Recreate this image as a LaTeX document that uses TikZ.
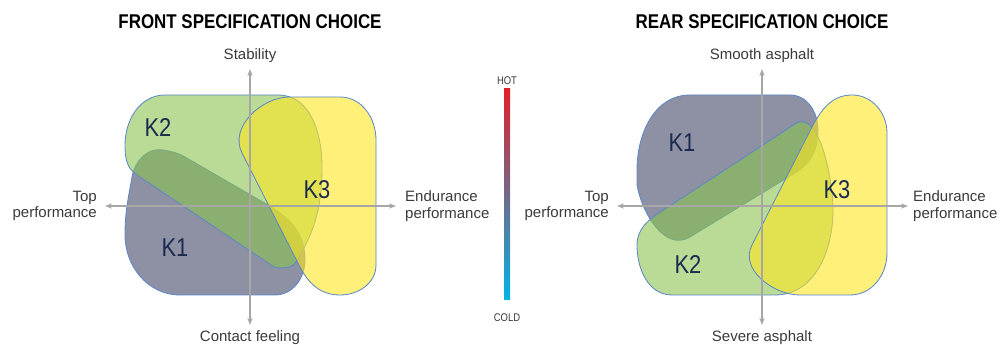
\documentclass[tikz,border=0pt]{standalone}
\usepackage{fontspec}
\setmainfont{Liberation Sans}
\newfontfamily\condfont{Liberation Sans}[FakeStretch=0.85]
\usetikzlibrary{arrows.meta}
\definecolor{kblue}{HTML}{434866}
\definecolor{kgreen}{HTML}{8AC350}
\definecolor{kyellow}{HTML}{FFE621}
\definecolor{kedge}{HTML}{5B86C8}
\definecolor{axisgrey}{HTML}{A6A6A6}
\definecolor{labelgrey}{HTML}{3A3A3A}
\definecolor{knavy}{HTML}{1B2A4E}
\definecolor{hotred}{HTML}{E3202A}
\definecolor{midgrey}{HTML}{8E8E9C}
\definecolor{coldcyan}{HTML}{00B4E8}

\begin{document}
\begin{tikzpicture}[x=0.03cm, y=0.03cm,
	region/.style={draw=kedge, line width=0.7pt, fill opacity=0.6},
	axis/.style={draw=axisgrey, line width=1.3pt, {Stealth[length=6pt,width=4.5pt]}-{Stealth[length=6pt,width=4.5pt]}},
	axislabel/.style={text=labelgrey, font=\fontsize{12.8}{14.2}\selectfont, inner sep=0pt},
	klabel/.style={text=knavy, font=\condfont\fontsize{22}{24}\selectfont, inner sep=0pt},
	title/.style={font=\condfont\bfseries\fontsize{17}{19}\selectfont, inner sep=0pt},
	barlabel/.style={text=labelgrey, font=\condfont\fontsize{9.5}{10}\selectfont, inner sep=0pt}]
		%%%%% START %%%%%
		\useasboundingbox (0, 0) rectangle (1000, 345);
		
		% front
		\node[title] (ftitle) at (250, 323) {FRONT SPECIFICATION CHOICE};
		
		\path[region, fill=kblue] (125, 110) to[out=90, in=-100] (132, 168) to[out=80, in=170] (163, 195)
			to[out=-10, in=150] (185, 188) -- (268, 140) to[out=-30, in=90] (305, 85)
			to[out=-90, in=0] (275, 50) -- (180, 50) to[out=180, in=-90] cycle;
		\path[region, fill=kgreen] (125, 200) to[out=90, in=180] (165, 250) -- (278, 250)
			to[out=0, in=90] (322, 178) to[out=-90, in=60] (297, 84) to[out=240, in=0] (280, 77)
			to[out=180, in=-33] (268, 82) -- (137, 170) to[out=147, in=-90] cycle;
		\path[region, fill=kyellow] (300, 78) -- (242, 192) to[out=117, in=180] (290, 248) -- (340, 248)
			to[out=0, in=90] (376, 205) -- (376, 80) to[out=-90, in=0] (340, 50)
			to[out=180, in=-63] cycle;
		
		\coordinate (fW) at (105, 139);
		\coordinate (fE) at (396, 139);
		\coordinate (fN) at (250, 276);
		\coordinate (fS) at (250, 20);
		\draw[axis] (fW) -- (fE);
		\draw[axis] (fS) -- (fN);
		
		\node[axislabel] (fstab) at (250, 289) {Stability};
		\node[axislabel, anchor=north] (fcontact) at (250, 15) {Contact feeling};
		\node[axislabel, anchor=east, align=right] (ftop) at (97, 139) {Top\\performance};
		\node[axislabel, anchor=west, align=left] (fendur) at (405, 139) {Endurance\\performance};
		
		\node[klabel] (fk2) at (158, 217) {K2};
		\node[klabel] (fk1) at (175, 97) {K1};
		\node[klabel] (fk3) at (317, 155) {K3};
		
		% colour bar
		\shade[top color=hotred, middle color=midgrey, bottom color=coldcyan] (504, 45) rectangle (510, 256);
		\node[barlabel] (hot) at (507, 264) {HOT};
		\node[barlabel] (cold) at (507, 27) {COLD};
		
		% rear
		\node[title] (rtitle) at (762, 323) {REAR SPECIFICATION CHOICE};
		
		\path[region, fill=kblue] (637, 175) to[out=90, in=180] (690, 250) -- (790, 250)
			to[out=0, in=90] (818, 215) to[out=-90, in=31] (795, 172) -- (690, 108)
			to[out=211, in=-80] (637, 160) -- cycle;
		\path[region, fill=kgreen] (795, 221) -- (662, 134) to[out=213, in=90] (637, 100)
			to[out=-90, in=180] (672, 50) -- (775, 50) to[out=0, in=-90] (833, 135)
			to[out=90, in=33, looseness=0.8] cycle;
		\path[region, fill=kyellow] (852, 250) to[out=0, in=90] (887, 212) -- (887, 92)
			to[out=-90, in=0] (850, 50) -- (800, 50) to[out=180, in=242] (752, 100)
			-- (812, 218) to[out=62, in=180] cycle;
		
		\coordinate (rW) at (617, 139);
		\coordinate (rE) at (908, 139);
		\coordinate (rN) at (762, 276);
		\coordinate (rS) at (762, 20);
		\draw[axis] (rW) -- (rE);
		\draw[axis] (rS) -- (rN);
		
		\node[axislabel] (rsmooth) at (762, 289) {Smooth asphalt};
		\node[axislabel, anchor=north] (rsevere) at (762, 15) {Severe asphalt};
		\node[axislabel, anchor=east, align=right] (rtop) at (609, 139) {Top\\performance};
		\node[axislabel, anchor=west, align=left] (rendur) at (913, 139) {Endurance\\performance};
		
		\node[klabel] (rk1) at (682, 202) {K1};
		\node[klabel] (rk2) at (688, 80) {K2};
		\node[klabel] (rk3) at (837, 155) {K3};
		%%%%% END %%%%%
\end{tikzpicture}
\end{document}
